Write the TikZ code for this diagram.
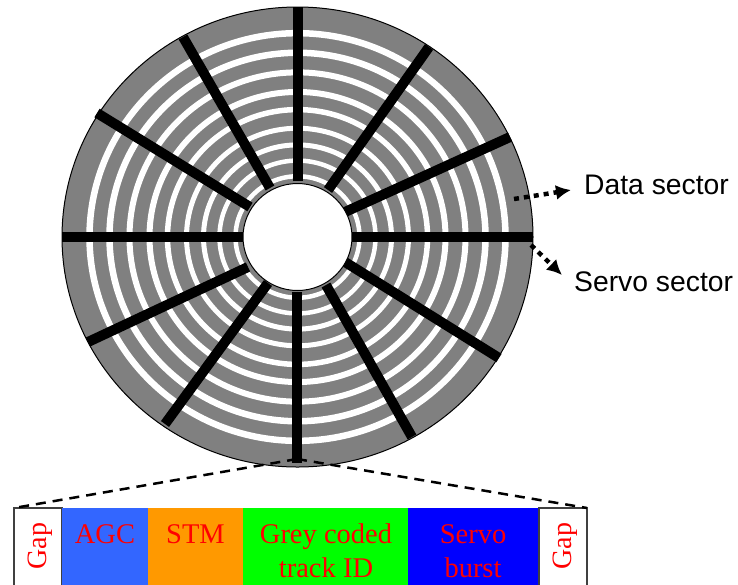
\documentclass[tikz,border=0pt]{standalone}
\usepackage{fontspec}
\setmainfont{Liberation Serif}
\newfontfamily\labelsans{Liberation Sans}
\usetikzlibrary{arrows.meta}
\definecolor{diskgrey}{RGB}{128,128,128}
\definecolor{agcblue}{RGB}{51,102,255}
\definecolor{stmorange}{RGB}{255,153,0}
\definecolor{idgreen}{RGB}{0,255,0}
\definecolor{burstblue}{RGB}{0,0,255}
\tikzset{
  disk/.style={draw=black,line width=1pt,fill=diskgrey},
  hole/.style={draw=black,line width=1pt,fill=white},
  ringline/.style={draw=white,line width=#1},
  spoke/.style={draw=black,line width=10pt},
  fieldbox/.style={anchor=north west,inner sep=0pt,outer sep=0pt,minimum height=90pt},
  gapbox/.style={fieldbox,draw=black!75,line width=1.2pt,fill=white},
  fieldtext/.style={text=red,align=center,anchor=north,inner sep=0pt,font=\fontsize{28.5}{34}\selectfont},
  gaptext/.style={text=red,rotate=90,inner sep=0pt,anchor=base,font=\fontsize{28}{34}\selectfont},
  sidelabel/.style={anchor=base west,inner sep=0pt,font=\labelsans\fontsize{28.3}{34}\selectfont},
  zoomline/.style={draw=black,line width=2.5pt,dash pattern=on 10pt off 7pt},
  callout/.style={draw=black,line width=4.5pt,dash pattern=on 5pt off 5pt,-{Latex[length=15pt,width=15pt]}},
}
\begin{document}
\begin{tikzpicture}[x=1pt,y=-1pt]
\useasboundingbox (0,0) rectangle (738,584);
\clip (0,0) rectangle (738,584);
\coordinate (c) at (297.5,237);
\fill[disk] (c) ellipse [x radius=235.5,y radius=230];
\foreach \r/\w in {208/6.5,188/6.5,168/6,148/6,130/5.5,111/5,94/5,78/4.5,62/4.5}{
  \draw[ringline=\w pt] (c) ellipse [x radius=\r,y radius=\r*0.98];
}
\foreach \xa/\ya/\xb/\yb in {
  297.5/181/297.5/7,
  328/190/429/47,
  345/212/510/137,
  352/237/533/237,
  345/262/499/358,
  326/285/412/437,
  296.5/292/296.5/463,
  268/283/165/424,
  248/267/88/342,
  244/237/62/237,
  250/207/97/113,
  270/188/183/37}{
  \draw[spoke] (\xa,\ya) -- (\xb,\yb);
}
\fill[hole] (c) ellipse [x radius=54.5,y radius=53.5];

\node[gapbox,minimum width=48pt] (gapL) at (14,508) {};
\node[fieldbox,fill=agcblue,minimum width=86pt] (agc) at (62,508) {};
\node[fieldbox,fill=stmorange,minimum width=95pt] (stm) at (148,508) {};
\node[fieldbox,fill=idgreen,minimum width=165pt] (gid) at (243,508) {};
\node[fieldbox,fill=burstblue,minimum width=131pt] (burst) at (408,508) {};
\node[gapbox,minimum width=48pt] (gapR) at (539,508) {};

\node[gaptext] (tgapL) at (46,546) {Gap};
\node[gaptext] (tgapR) at (571,546) {Gap};
\node[fieldtext] (tagc) at (105,524) {AGC};
\node[fieldtext] (tstm) at (195.5,524) {STM};
\node[fieldtext] (tgid) at (326,524) {Grey coded\\track ID};
\node[fieldtext] (tburst) at (473,524) {Servo\\burst};

\coordinate (apex) at (297,459);
\draw[zoomline] (apex) -- (gapL.north west);
\draw[zoomline] (apex) -- (gapR.north east);

\node[sidelabel] (ldata) at (584,194) {Data sector};
\node[sidelabel] (lservo) at (574,291) {Servo sector};
\coordinate (dataFrom) at (514,199);
\coordinate (dataTo) at (571,190);
\coordinate (servoFrom) at (531,245);
\coordinate (servoTo) at (562,275);
\draw[callout] (dataFrom) -- (dataTo);
\draw[callout] (servoFrom) -- (servoTo);
\end{tikzpicture}
\end{document}
